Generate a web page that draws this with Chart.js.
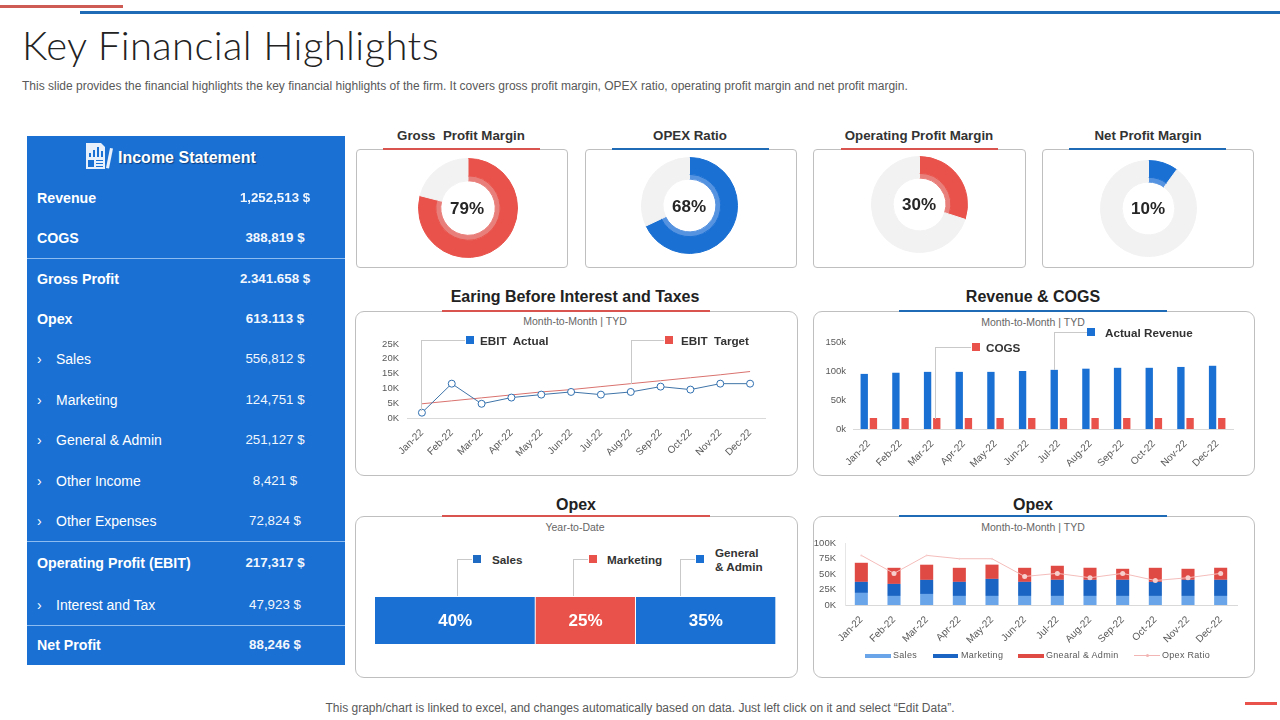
<!DOCTYPE html>
<html>
<head>
<meta charset="utf-8">
<title>Key Financial Highlights</title>
<script src="https://cdn.jsdelivr.net/npm/chart.js@4"></script>
<style>
  html, body { margin: 0; padding: 0; background: #fff; }
  body { width: 1280px; height: 720px; position: relative; overflow: hidden; font-family: "Liberation Sans", Arial, sans-serif; color: #262626; }
  .abs, canvas { position: absolute; }
  .t { position: absolute; white-space: nowrap; line-height: 1; }
  .c { transform: translateX(-50%); text-align: center; }
  .card { position: absolute; box-sizing: border-box; background: #fff; border: 1px solid #bfbfbf; }
  .head { font-weight: bold; font-size: 13.3px; color: #333; }
  .big { font-weight: bold; font-size: 16px; color: #222; }
  .sub { font-size: 10.5px; color: #666; }
  .key { font-weight: bold; font-size: 11.7px; color: #333; }
  .sq { position: absolute; width: 8px; height: 8px; }
  .leader { position: absolute; box-sizing: border-box; border-left: 1px solid #c9c9c9; border-top: 1px solid #c9c9c9; }
  .pct { font-weight: bold; font-size: 17px; color: #262626; }
  .lg { font-size: 9px; color: #595959; letter-spacing: .3px; }
</style>
</head>
<body>
<div class="abs" style="left:0;top:5px;width:123px;height:3px;background:#cf5b55"></div>
<div class="abs" style="left:80px;top:11px;width:1200px;height:3px;background:#1f6bb5"></div>
<div class="abs" style="left:1245px;top:702px;width:32px;height:3px;background:#e8524b"></div>

<div class="t" style="left:22px;top:25px;font-family:Lato;font-weight:300;font-size:40px;color:#222;letter-spacing:.4px">Key Financial Highlights</div>
<div class="t" style="left:22px;top:80px;font-size:12px;color:#595959">This slide provides the financial highlights the key financial highlights of the firm. It covers gross profit margin, OPEX ratio, operating profit margin and net profit margin.</div>
<div class="t c" style="left:640px;top:702px;font-size:12px;color:#595959">This graph/chart is linked to excel, and changes automatically based on data. Just left click on it and select “Edit Data”.</div>

<!-- income statement panel -->
<div class="abs" id="panel" style="left:27px;top:136px;width:318px;height:529px;background:#1a70d3"></div>
<svg class="abs" style="left:85px;top:142px" width="29" height="28" viewBox="0 0 29 28">
  <path d="M1 1h15l4 4v22H1z" fill="#e8f1fb"/>
  <path d="M4 11h2v4H4zM8 8h2v7H8zM12 5h2v10h-2zM16 9h2v6h-2z" fill="#1a70d3"/>
  <path d="M3 18h6v7H3zM11 18h7v1H11zM11 21h7v1H11zM11 24h7v1H11z" fill="#1a70d3"/>
  <path d="M21 26l4-20 3 .6-4 20z" fill="#e8f1fb"/>
</svg>
<div class="t" style="left:118px;top:150px;font-size:16px;font-weight:bold;color:#fff;text-shadow:1px 1px 1px #0d3f80">Income Statement</div>

<!-- small donuts -->
<div class="t c head" style="left:461px;top:129px">Gross&nbsp; Profit Margin</div>
<div class="t c head" style="left:690px;top:129px">OPEX Ratio</div>
<div class="t c head" style="left:919px;top:129px">Operating Profit Margin</div>
<div class="t c head" style="left:1148px;top:129px">Net Profit Margin</div>
<div class="card" style="left:356px;top:149px;width:212px;height:119px;border-radius:4px"></div>
<div class="card" style="left:585px;top:149px;width:212px;height:119px;border-radius:4px"></div>
<div class="card" style="left:813px;top:149px;width:213px;height:119px;border-radius:4px"></div>
<div class="card" style="left:1042px;top:149px;width:212px;height:119px;border-radius:4px"></div>
<div class="abs" style="left:383px;top:148px;width:157px;height:2px;background:#d9534f"></div>
<div class="abs" style="left:612px;top:148px;width:157px;height:2px;background:#1f6bb5"></div>
<div class="abs" style="left:841px;top:148px;width:157px;height:2px;background:#d9534f"></div>
<div class="abs" style="left:1069px;top:148px;width:157px;height:2px;background:#1f6bb5"></div>
<canvas id="donut1" width="100" height="100" style="left:418px;top:158px"></canvas>
<canvas id="donut2" width="97" height="97" style="left:641px;top:157px"></canvas>
<canvas id="donut3" width="97" height="97" style="left:871px;top:156px"></canvas>
<canvas id="donut4" width="97" height="97" style="left:1100px;top:160px"></canvas>
<div class="t c pct" style="left:467px;top:200px">79%</div>
<div class="t c pct" style="left:689px;top:198px">68%</div>
<div class="t c pct" style="left:919px;top:196px">30%</div>
<div class="t c pct" style="left:1148px;top:200px">10%</div>

<!-- EBIT -->
<div class="t c big" style="left:575px;top:289px">Earing Before Interest and Taxes</div>
<div class="card" style="left:355px;top:311px;width:443px;height:165px;border-radius:9px"></div>
<div class="abs" style="left:442px;top:310px;width:268px;height:2px;background:#d9534f"></div>
<div class="t c sub" style="left:575px;top:316px">Month-to-Month | TYD</div>
<canvas id="ebitChart" width="441" height="163" style="left:356px;top:312px"></canvas>
<div class="leader" style="left:421px;top:340px;width:44px;height:71px"></div>
<div class="sq" style="left:466px;top:336px;background:#1a70d3"></div>
<div class="t key" style="left:480px;top:335px">EBIT&nbsp; Actual</div>
<div class="leader" style="left:631px;top:340px;width:33px;height:44px"></div>
<div class="sq" style="left:665px;top:336px;background:#e8524b"></div>
<div class="t key" style="left:681px;top:335px">EBIT&nbsp; Target</div>

<!-- Revenue & COGS -->
<div class="t c big" style="left:1033px;top:289px">Revenue &amp; COGS</div>
<div class="card" style="left:813px;top:311px;width:442px;height:165px;border-radius:9px"></div>
<div class="abs" style="left:899px;top:310px;width:268px;height:2px;background:#1f6bb5"></div>
<div class="t c sub" style="left:1033px;top:317px">Month-to-Month | TYD</div>
<canvas id="revChart" width="440" height="163" style="left:814px;top:312px"></canvas>
<div class="leader" style="left:935px;top:347px;width:36px;height:72px"></div>
<div class="sq" style="left:972px;top:343px;background:#e8524b"></div>
<div class="t key" style="left:986px;top:342px">COGS</div>
<div class="leader" style="left:1054px;top:332px;width:33px;height:38px"></div>
<div class="sq" style="left:1087px;top:328px;background:#1a70d3"></div>
<div class="t key" style="left:1105px;top:327px">Actual Revenue</div>

<!-- Opex YTD -->
<div class="t c big" style="left:576px;top:497px">Opex</div>
<div class="card" style="left:355px;top:516px;width:443px;height:162px;border-radius:9px"></div>
<div class="abs" style="left:442px;top:515px;width:268px;height:2px;background:#d9534f"></div>
<div class="t c sub" style="left:575px;top:522px">Year-to-Date</div>
<canvas id="ytdChart" width="401" height="47" style="left:375px;top:597px"></canvas>
<div class="leader" style="left:457px;top:559px;width:15px;height:37px"></div>
<div class="sq" style="left:473px;top:555px;background:#1f6bc4"></div>
<div class="t key" style="left:492px;top:554px">Sales</div>
<div class="leader" style="left:573px;top:559px;width:15px;height:37px"></div>
<div class="sq" style="left:589px;top:555px;background:#e8524b"></div>
<div class="t key" style="left:607px;top:554px">Marketing</div>
<div class="leader" style="left:680px;top:559px;width:15px;height:37px"></div>
<div class="sq" style="left:696px;top:555px;background:#1a70d3"></div>
<div class="t key" style="left:715px;top:546px;line-height:14px">General<br>&amp; Admin</div>

<!-- Opex MTM -->
<div class="t c big" style="left:1033px;top:497px">Opex</div>
<div class="card" style="left:813px;top:516px;width:442px;height:162px;border-radius:9px"></div>
<div class="abs" style="left:899px;top:515px;width:268px;height:2px;background:#1f6bb5"></div>
<div class="t c sub" style="left:1033px;top:522px">Month-to-Month | TYD</div>
<canvas id="opexChart" width="440" height="160" style="left:814px;top:517px"></canvas>
<div class="abs" style="left:865px;top:654px;width:26px;height:4px;background:#6aa5ea"></div>
<div class="t lg" style="left:893px;top:651px">Sales</div>
<div class="abs" style="left:933px;top:654px;width:25px;height:4px;background:#1a64c4"></div>
<div class="t lg" style="left:961px;top:651px">Marketing</div>
<div class="abs" style="left:1018px;top:654px;width:26px;height:4px;background:#e04a45"></div>
<div class="t lg" style="left:1046px;top:651px">Gnearal &amp; Admin</div>
<div class="abs" style="left:1134px;top:655px;width:26px;height:1px;background:#f2b5b3"></div>
<div class="abs" style="left:1146px;top:654px;width:3px;height:3px;border-radius:50%;background:#f2b5b3"></div>
<div class="t lg" style="left:1162px;top:651px">Opex Ratio</div>

<script>
const months = ["Jan-22","Feb-22","Mar-22","Apr-22","May-22","Jun-22","Jul-22","Aug-22","Sep-22","Oct-22","Nov-22","Dec-22"];

// income statement rows
const rowLabels = ["Revenue","COGS","Gross Profit","Opex","Sales","Marketing","General & Admin","Other Income","Other Expenses","Operating Profit (EBIT)","Interest and Tax","Net Profit"];
const rowValues = ["1,252,513 $","388,819 $","2.341.658 $","613.113 $","556,812 $","124,751 $","251,127 $","8,421 $","72,824 $","217,317 $","47,923 $","88,246 $"];
const rowBold = [true,true,true,true,false,false,false,false,false,true,false,true];
const rowY = [198,238,279,319,359,400,440,481,521,563,605,645];
const panelLines = [258,541,625];

// donuts
const grossMargin = [79, 21];
const opexRatio = [68, 32];
const operatingMargin = [30, 70];
const netMargin = [10, 90];

// EBIT, in thousands
const ebitActual = [1.8,11.6,4.8,6.9,7.9,8.8,7.9,8.8,10.6,9.6,11.6,11.6];
const ebitTarget = [4.8,5.8,6.8,7.8,8.8,9.6,10.6,11.6,12.6,13.6,14.6,15.7];

// revenue and cogs, in thousands
const actualRevenue = [95,97,98.5,98.5,98.5,100,102,104,105.5,105.5,107,109];
const cogs = [19,19,19,19,19,19,19,19,19,19,19,19];

// opex year to date
const ytdShares = [40,25,35];

// opex month to month, in thousands
const opexSales = [19.5,14.6,17.8,14.6,14.6,14.6,14.6,14.6,14.6,14.6,14.6,14.6];
const opexMarketing = [17.8,19.4,22.7,22.7,27.5,22.7,26,26,26,22.7,26,26];
const opexAdmin = [30.8,26,24.5,22.7,23,22.7,22.7,19.5,17.8,22.7,17.8,19.5];
const opexRatioLine = [80,51,80,74.6,74.6,46,51,44,51,39.5,44,51];

const BLUE = "#1a70d3", RED = "#e8524b", GREY = "#f2f2f2";
const TICK = "#595959", AXIS = "#d9d9d9";
Chart.defaults.font.family = '"Liberation Sans", Arial, sans-serif';
Chart.defaults.animation = false;
Chart.defaults.responsive = false;
Chart.defaults.plugins.legend.display = false;
Chart.defaults.plugins.tooltip.enabled = false;

// panel rows
rowLabels.forEach((label, i) => {
    const left = document.createElement("div");
    left.className = "t";
    left.style.cssText = `left:37px;top:${rowY[i]-7}px;color:#fff;` + (rowBold[i] ? "font-size:14.2px;font-weight:bold;" : "font-size:14px;");
    left.innerHTML = rowBold[i] ? label : `<span style="display:inline-block;width:19px">›</span>${label.replace("&","&amp;")}`;
    document.body.appendChild(left);
    const right = document.createElement("div");
    right.className = "t c";
    right.style.cssText = `left:275px;top:${rowY[i]-7}px;font-size:13.3px;color:#f2f7fd;${rowBold[i] ? "font-weight:bold;" : ""}`;
    right.textContent = rowValues[i];
    document.body.appendChild(right);
});
panelLines.forEach(y => {
    const d = document.createElement("div");
    d.className = "abs";
    d.style.cssText = `left:27px;top:${y}px;width:318px;height:1px;background:#8dbcf0`;
    document.body.appendChild(d);
});

function donut(id, values, color, ringColor) {
    new Chart(document.getElementById(id), {
        type: "doughnut",
        data: {
            datasets: [
                { data: values, backgroundColor: [color, GREY], borderColor: [color, GREY], borderWidth: 1, weight: 17.5 },
                { data: values, backgroundColor: [ringColor, GREY], borderColor: [ringColor, GREY], borderWidth: 1, weight: 5 }
            ]
        },
        options: { cutout: "55%" }
    });
}
donut("donut1", grossMargin, RED, "#e97f7a");
donut("donut2", opexRatio, BLUE, "#5592e0");
donut("donut3", operatingMargin, RED, "#e97f7a");
donut("donut4", netMargin, BLUE, "#5592e0");

// shared axes, the afterFit values pin the plot area inside the card
function axes(leftW, bottomH, yMax, step, suffix, showYLine, labelGap) {
    return {
        x: {
            offset: true,
            grid: { display: false },
            border: { color: AXIS },
            ticks: { color: TICK, font: { size: 10 }, minRotation: 45, maxRotation: 45, autoSkip: false, padding: 1 },
            afterFit: s => { s.height = bottomH; }
        },
        y: {
            min: 0, max: yMax,
            grid: { display: false, drawTicks: false },
            border: { display: showYLine, color: "#e6e6e6" },
            ticks: { color: TICK, font: { size: 9.5 }, stepSize: step, autoSkip: false, padding: labelGap, callback: v => v + suffix },
            afterFit: s => { s.width = leftW; }
        }
    };
}

new Chart(document.getElementById("ebitChart"), {
    type: "line",
    data: {
        labels: months,
        datasets: [
            { label: "EBIT Actual", data: ebitActual, borderColor: "#3f74a8", borderWidth: 1, tension: 0, pointRadius: 3.5, pointBackgroundColor: "#fff", pointBorderColor: "#2f6fb0", pointBorderWidth: 1 },
            { label: "EBIT Target", data: ebitTarget, borderColor: "#d9726e", borderWidth: 1, tension: 0, pointRadius: 0 }
        ]
    },
    options: {
        layout: { padding: { top: 32, right: 32 } },
        scales: axes(51, 57, 25, 5, "K", false, 8)
    }
});

new Chart(document.getElementById("revChart"), {
    type: "bar",
    data: {
        labels: months,
        datasets: [
            { label: "Actual Revenue", data: actualRevenue, backgroundColor: BLUE, categoryPercentage: .58, barPercentage: .8 },
            { label: "COGS", data: cogs, backgroundColor: RED, categoryPercentage: .58, barPercentage: .8 }
        ]
    },
    options: {
        layout: { padding: { top: 30, right: 21 } },
        scales: axes(39, 46, 150, 50, "k", false, 7)
    }
});

// white percentages inside the year to date bar
const barLabels = {
    id: "barLabels",
    afterDatasetsDraw(chart) {
        const c = chart.ctx;
        c.save();
        c.fillStyle = "#fff";
        c.font = 'bold 17px "Liberation Sans", Arial, sans-serif';
        c.textAlign = "center";
        c.textBaseline = "middle";
        chart.data.datasets.forEach((ds, i) => {
            const bar = chart.getDatasetMeta(i).data[0];
            c.fillText(ds.data[0] + "%", (bar.base + bar.x) / 2, bar.y + 1);
        });
        c.restore();
    }
};

new Chart(document.getElementById("ytdChart"), {
    type: "bar",
    plugins: [barLabels],
    data: {
        labels: ["Opex"],
        datasets: [
            { label: "Sales", data: [ytdShares[0]], backgroundColor: BLUE },
            { label: "Marketing", data: [ytdShares[1]], backgroundColor: RED },
            { label: "General & Admin", data: [ytdShares[2]], backgroundColor: BLUE }
        ].map(d => ({ ...d, categoryPercentage: 1, barPercentage: 1, borderColor: "#fff", borderWidth: { right: 1 }, borderSkipped: false }))
    },
    options: {
        indexAxis: "y",
        scales: {
            x: { stacked: true, display: false, min: 0, max: 100 },
            y: { stacked: true, display: false }
        }
    }
});

const opexAxes = axes(31, 72, 100, 25, "K", true, 9);
opexAxes.x.stacked = true;
opexAxes.y.stacked = true;
const stackTotal = i => opexSales[i] + opexMarketing[i] + opexAdmin[i];
new Chart(document.getElementById("opexChart"), {
    data: {
        labels: months,
        datasets: [
            { type: "line", label: "Opex Ratio", data: opexRatioLine, stack: "ratio", order: 0, borderColor: "#f4bdbb", borderWidth: 1, tension: 0, pointBackgroundColor: "#f7cfcd", pointBorderWidth: 0,
              pointRadius: c => opexRatioLine[c.dataIndex] < stackTotal(c.dataIndex) ? 2.5 : 1 },
            { type: "bar", label: "Sales", data: opexSales, backgroundColor: "#6aa5ea", order: 1, categoryPercentage: .4, barPercentage: 1 },
            { type: "bar", label: "Marketing", data: opexMarketing, backgroundColor: "#1a64c4", order: 1, categoryPercentage: .4, barPercentage: 1 },
            { type: "bar", label: "Gnearal & Admin", data: opexAdmin, backgroundColor: "#e04a45", order: 1, categoryPercentage: .4, barPercentage: 1 }
        ]
    },
    options: {
        layout: { padding: { top: 26, right: 17 } },
        scales: opexAxes
    }
});
</script>
</body>
</html>
